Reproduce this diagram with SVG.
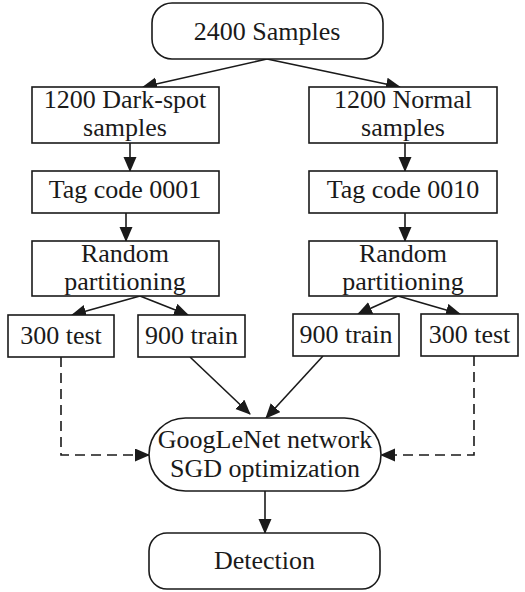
<svg xmlns="http://www.w3.org/2000/svg" width="525" height="592" viewBox="0 0 525 592">
<style>
.box{fill:#fff;stroke:#1a1a1a;stroke-width:1.6}
.t{font-family:"Liberation Serif","Times New Roman",serif;font-size:26px;fill:#1a1a1a;text-anchor:middle}
.c{fill:none;stroke:#1a1a1a;stroke-width:1.6;marker-end:url(#ah)}
.d{stroke-dasharray:10 6}
</style>
<defs>
<marker id="ah" markerUnits="userSpaceOnUse" markerWidth="15" markerHeight="14" refX="14" refY="6.5" orient="auto">
<path d="M0,0 L15,6.5 L0,13 Z" fill="#1a1a1a"/>
</marker>
</defs>
<rect width="525" height="592" fill="#fff"/>
<g id="connectors">
<line class="c" x1="267" y1="59" x2="143" y2="87"/>
<line class="c" x1="267" y1="59" x2="400" y2="87"/>
<line class="c" x1="130" y1="143" x2="130" y2="171"/>
<line class="c" x1="405" y1="143" x2="405" y2="171"/>
<line class="c" x1="126" y1="213" x2="126" y2="241"/>
<line class="c" x1="405" y1="213" x2="405" y2="241"/>
<line class="c" x1="140" y1="296" x2="72" y2="315"/>
<line class="c" x1="140" y1="296" x2="188" y2="315"/>
<line class="c" x1="398" y1="296" x2="358" y2="314"/>
<line class="c" x1="398" y1="296" x2="460" y2="314"/>
<line class="c" x1="190" y1="357" x2="250" y2="414"/>
<line class="c" x1="323" y1="356" x2="266" y2="418"/>
<polyline class="c d" points="61,357 61,455 149,455"/>
<polyline class="c d" points="474,356 474,455 381,455"/>
<line class="c" x1="265" y1="491" x2="265" y2="533"/>
</g>
<g id="n_samples"><rect class="box" x="152" y="3" width="231" height="56" rx="20"/><text class="t" x="267" y="40">2400 Samples</text></g>
<g id="n_dark"><rect class="box" x="32" y="87" width="187" height="56"/><text class="t" x="125" y="108">1200 Dark-spot</text><text class="t" x="125" y="136">samples</text></g>
<g id="n_normal"><rect class="box" x="309" y="87" width="188" height="56"/><text class="t" x="403" y="108">1200 Normal</text><text class="t" x="403" y="136">samples</text></g>
<g id="n_tag1"><rect class="box" x="32" y="171" width="187" height="42"/><text class="t" x="125" y="198">Tag code 0001</text></g>
<g id="n_tag2"><rect class="box" x="309" y="171" width="188" height="42"/><text class="t" x="403" y="198">Tag code 0010</text></g>
<g id="n_rand1"><rect class="box" x="32" y="241" width="187" height="55"/><text class="t" x="125" y="262">Random</text><text class="t" x="125" y="290">partitioning</text></g>
<g id="n_rand2"><rect class="box" x="309" y="241" width="188" height="55"/><text class="t" x="403" y="262">Random</text><text class="t" x="403" y="290">partitioning</text></g>
<g id="n_test1"><rect class="box" x="8" y="315" width="106" height="42"/><text class="t" x="61" y="344">300 test</text></g>
<g id="n_train1"><rect class="box" x="138" y="315" width="107" height="42"/><text class="t" x="191.5" y="344">900 train</text></g>
<g id="n_train2"><rect class="box" x="293" y="314" width="106" height="42"/><text class="t" x="346" y="343">900 train</text></g>
<g id="n_test2"><rect class="box" x="421" y="314" width="97" height="42"/><text class="t" x="469.5" y="343">300 test</text></g>
<g id="n_googlenet"><rect class="box" x="149" y="418" width="232" height="73" rx="36.5"/><text class="t" x="265" y="448">GoogLeNet network</text><text class="t" x="265" y="477">SGD optimization</text></g>
<g id="n_detection"><rect class="box" x="149" y="533" width="231" height="56" rx="18"/><text class="t" x="264.5" y="569">Detection</text></g>
</svg>
